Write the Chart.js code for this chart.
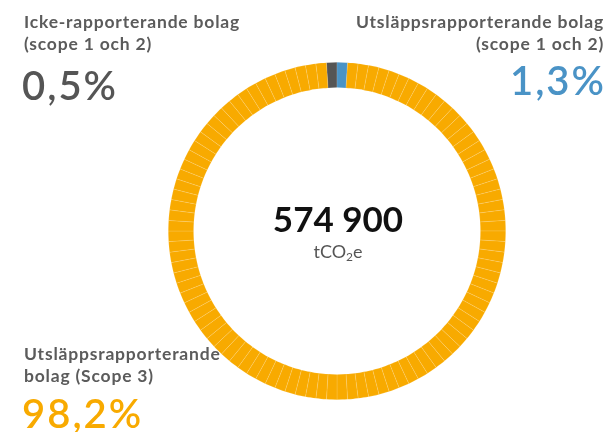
<!DOCTYPE html>
<html>
<head>
<meta charset="utf-8">
<script src="https://cdn.jsdelivr.net/npm/chart.js@4/dist/chart.umd.min.js"></script>
<style>
  html, body { margin: 0; padding: 0; background: #fff; }
  #wrap { position: relative; width: 606px; height: 432px; overflow: hidden; font-family: Lato, "Open Sans", sans-serif; }
  canvas { position: absolute; left: 0; top: 0; }
  .lbl { position: absolute; color: #5b5b5b; font-weight: 700; font-size: 17.5px; line-height: 22px; letter-spacing: 0.8px; white-space: nowrap; }
  .big { position: absolute; font-weight: 600; font-size: 40px; line-height: 40px; letter-spacing: 2px; }
  .center { position: absolute; left: 238px; width: 200px; text-align: center; }
</style>
</head>
<body>
<div id="wrap">
  <canvas id="donutChart" width="606" height="432"></canvas>
  <div class="lbl" id="lbl0" style="left:24px; top:11px;"></div>
  <div class="big" id="val0" style="left:22px; top:65px;"></div>
  <div class="lbl" id="lbl1" style="right:2px; top:11px; text-align:right;"></div>
  <div class="big" id="val1" style="right:0px; top:60px;"></div>
  <div class="lbl" id="lbl2" style="left:24px; top:343px;"></div>
  <div class="big" id="val2" style="left:22px; top:393px;"></div>
  <div class="center" id="total" style="top:197px; font-size:35px; font-weight:700; color:#111;"></div>
  <div class="center" style="top:240px; font-size:18px; color:#555;">tCO<sub style="font-size:12px; vertical-align:-3px;">2</sub>e</div>
</div>
<script>
// shares of total emissions, in percent
var categories = ['Icke-rapporterande bolag<br>(scope 1 och 2)', 'Utsläppsrapporterande bolag<br>(scope 1 och 2)', 'Utsläppsrapporterande<br>bolag (Scope 3)'];
var shares = [0.5, 1.3, 98.2];
var share_labels = ['0,5%', '1,3%', '98,2%'];
var colors = ['#555555', '#4a93c6', '#f8aa00'];
var total_label = '574 900';

for (var i = 0; i < categories.length; i++) {
    document.getElementById('lbl' + i).innerHTML = categories[i];
    document.getElementById('val' + i).innerHTML = share_labels[i];
    document.getElementById('val' + i).style.color = colors[i];
}
document.getElementById('total').innerHTML = total_label;

// one ring segment per whole percent
var seg_data = [];
var seg_colors = [];
shares.forEach(function(s, i) {
    var n = Math.round(s);
    for (var k = 0; k < n; k++) {
        seg_data.push(1);
        seg_colors.push(colors[i]);
    }
});
var seg_step = 360 / seg_data.length;

var ctx = document.getElementById('donutChart').getContext('2d');
new Chart(ctx, {
    type: 'doughnut',
    data: {
        labels: seg_data.map(function(_, i) { return i; }),
        datasets: [{
            data: seg_data,
            backgroundColor: seg_colors,
            borderColor: 'rgba(255,255,255,0.22)',
            borderWidth: 0.6,
            hoverOffset: 0
        }]
    },
    options: {
        responsive: false,
        animation: false,
        rotation: -seg_step * Math.round(shares[0]),
        cutout: '85%',
        layout: { padding: { top: 62, bottom: 32, left: 168, right: 100 } },
        plugins: {
            legend: { display: false },
            tooltip: { enabled: false }
        }
    }
});
</script>
</body>
</html>
